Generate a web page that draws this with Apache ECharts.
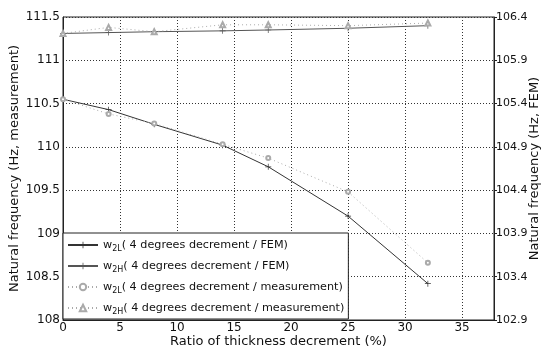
<!DOCTYPE html>
<html><head><meta charset="utf-8">
<script src="https://cdn.jsdelivr.net/npm/echarts@6/dist/echarts.min.js"></script>
<style>html,body{margin:0;padding:0;background:#fff}#c{width:544px;height:350px}</style>
</head><body><div id="c"></div>
<script>
const xValues = [0, 4, 8, 14, 18, 25, 32];
// FEM (right axis, Hz FEM)
const w2L_FEM = [105.45, 105.33, 105.16, 104.92, 104.67, 104.10, 103.32];
const w2H_FEM = [106.21, 106.22, 106.23, 106.24, 106.25, 106.27, 106.30];
// measurement (left axis)
const w2L_meas = [110.55, 110.38, 110.27, 110.03, 109.87, 109.48, 108.66];
const w2H_meas = [111.31, 111.38, 111.33, 111.41, 111.41, 111.40, 111.43];
const names = [
  'w{s|2L}( 4 degrees decrement / FEM)',
  'w{s|2H}( 4 degrees decrement / FEM)',
  'w{s|2L}( 4 degrees decrement / measurement)',
  'w{s|2H}( 4 degrees decrement / measurement)'
];
const pair = arr => xValues.map((x, i) => [x, arr[i]]);
const plus = 'path://M4.4,0H5.6V4.4H10V5.6H5.6V10H4.4V5.6H0V4.4H4.4Z';
const font = 'DejaVu Sans';
const chart = echarts.init(document.getElementById('c'));
chart.setOption({
  animation: false,
  textStyle: {fontFamily: font},
  grid: {left: 63, right: 50, top: 17, bottom: 30, show: true, borderColor: '#222', borderWidth: 1,
         containLabel: false, outerBoundsMode: 'none'},
  xAxis: {
    type: 'value', min: 0, max: 37.8, interval: 5,
    axisLine: {show: true, lineStyle: {color: '#222'}},
    axisTick: {show: false},
    axisLabel: {color: '#111', fontSize: 12, margin: 2, showMaxLabel: false},
    splitLine: {show: true, lineStyle: {color: '#333', type: [1, 2], width: 1}},
    name: 'Ratio of thickness decrement (%)', nameLocation: 'middle', nameGap: 15, nameMoveOverlap: false,
    nameTextStyle: {fontSize: 13, color: '#111', verticalAlign: 'top'}
  },
  yAxis: [{
    type: 'value', min: 108, max: 111.5, interval: 0.5,
    axisLine: {show: true, lineStyle: {color: '#222'}},
    axisTick: {show: false},
    axisLabel: {color: '#111', fontSize: 12, margin: 3},
    splitLine: {show: true, lineStyle: {color: '#333', type: [1, 2], width: 1}},
    name: 'Natural frequency (Hz, measurement)', nameLocation: 'middle', nameGap: 42, nameMoveOverlap: false,
    nameTextStyle: {fontSize: 13, color: '#111'}
  }, {
    type: 'value', min: 102.9, max: 106.4, interval: 0.5,
    axisLine: {show: true, lineStyle: {color: '#222'}},
    axisTick: {show: true, length: 3, inside: false, lineStyle: {color: '#222'}},
    axisLabel: {color: '#111', fontSize: 11, margin: 2, formatter: v => v.toFixed(1)},
    splitLine: {show: false},
    name: 'Natural frequency (Hz, FEM)', nameLocation: 'middle', nameGap: 34, nameRotate: 90, nameMoveOverlap: false,
    nameTextStyle: {fontSize: 13, color: '#111'}
  }],
  legend: {
    orient: 'vertical', left: 63, top: 233, itemGap: 3, itemWidth: 30, itemHeight: 8,
    backgroundColor: '#fff', borderColor: '#222', borderWidth: 1, borderRadius: 0,
    padding: [3, 4, 2, 4],
    textStyle: {fontSize: 11.2, color: '#111', fontFamily: font, lineHeight: 18,
      rich: {s: {fontSize: 8, padding: [7, 0, 0, 0], color: '#111', fontFamily: font, lineHeight: 18}}},
    data: names
  },
  series: [
    {name: names[0], type: 'line', yAxisIndex: 1, data: pair(w2L_FEM), symbol: plus, symbolSize: 6,
     lineStyle: {color: '#333', width: 1}, itemStyle: {color: '#333'}},
    {name: names[1], type: 'line', yAxisIndex: 1, data: pair(w2H_FEM), symbol: plus, symbolSize: 6,
     lineStyle: {color: '#555', width: 1}, itemStyle: {color: '#555'}},
    {name: names[2], type: 'line', yAxisIndex: 0, data: pair(w2L_meas), symbol: 'emptyCircle', symbolSize: 4,
     lineStyle: {color: '#aaa', width: 1, type: [1, 3]}, itemStyle: {color: '#aaa', borderWidth: 1}},
    {name: names[3], type: 'line', yAxisIndex: 0, data: pair(w2H_meas), symbol: 'emptyTriangle', symbolSize: 5,
     lineStyle: {color: '#aaa', width: 1, type: [1, 3]}, itemStyle: {color: '#aaa', borderWidth: 1}}
  ]
});
</script></body></html>
